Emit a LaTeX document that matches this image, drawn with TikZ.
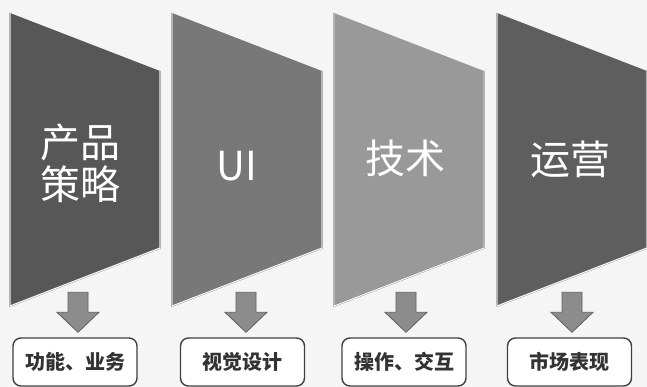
\documentclass[tikz,border=0pt]{standalone}
\usepackage{fontspec}
\newfontfamily\cjk{Noto Sans CJK SC}
\begin{document}
\begin{tikzpicture}[x=1pt,y=-1pt,
  panelfill/.style={fill=#1},
  bevel/.style={draw=black!45, double=white, double distance=0.9pt, line width=0.35pt, line join=round},
  paneltext/.style={text=white, font=\cjk\fontsize{40}{46}\selectfont, align=center, inner sep=0pt},
  resultbox/.style={draw=black!75, line width=1.4pt, rounded corners=8pt, fill=white,
    minimum width=124pt, minimum height=48pt, inner sep=0pt,
    font=\cjk\bfseries\fontsize{20}{24}\selectfont, text=black!80},
  arrowstyle/.style={fill=black!45, draw=black!62, line width=0.8pt, line join=miter},
  downarrow/.pic={\draw[arrowstyle] (-10,0) -- (10,0) -- (10,20) -- (21,20) -- (0,40) -- (-21,20) -- (-10,20) -- cycle;}
]
\useasboundingbox[fill=black!4] (0,0) rectangle (647,387);

% panels
\foreach \i/\x/\c in {1/10/black!66, 2/172/black!53, 3/334/black!40, 4/497/black!63}{
  \fill[panelfill=\c] (\x,13) -- (\x+150,71) -- (\x+150,248) -- (\x,306) -- cycle;
  \draw[bevel] (\x,13) -- (\x,306) -- (\x+150,248) -- (\x+150,71);
}

\node[paneltext] (p1) at (80,163) {产品\\[-4pt]策略};
\node[paneltext] (p2) at (237,166) {UI};
\node[paneltext] (p3) at (405,158) {技术};
\node[paneltext] (p4) at (570,159) {运营};

% result boxes
\node[resultbox] (b1) at (75,362) {功能、业务};
\node[resultbox] (b2) at (242.5,362) {视觉设计};
\node[resultbox] (b3) at (404,362) {操作、交互};
\node[resultbox] (b4) at (569.5,362) {市场表现};

% arrows from panels to boxes
\foreach \i/\dx in {1/3, 2/3.5, 3/2, 4/2.5}{
  \path (b\i.north) ++(\dx,-45) coordinate (a\i);
  \pic at (a\i) {downarrow};
}
\end{tikzpicture}
\end{document}
